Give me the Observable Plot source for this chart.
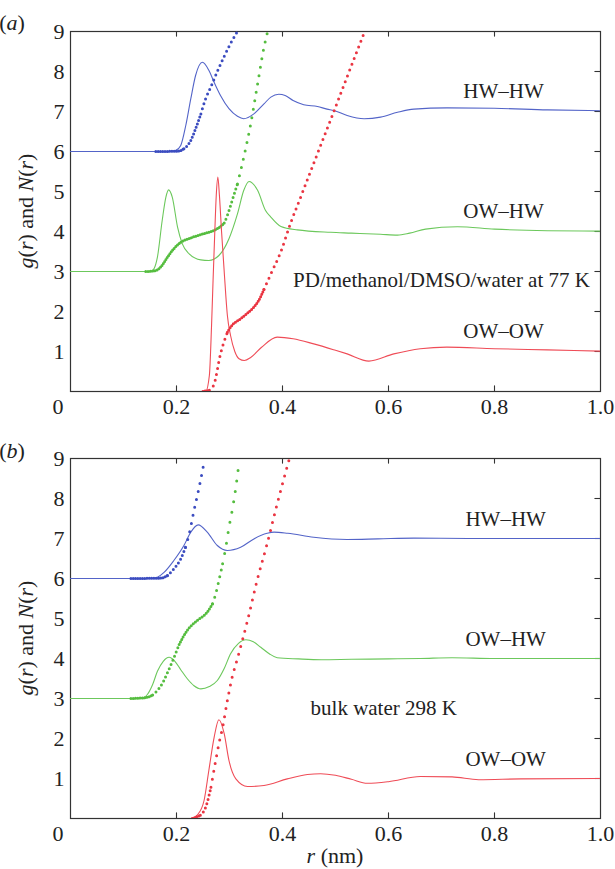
<!DOCTYPE html>
<html><head><meta charset="utf-8">
<script src="https://cdn.jsdelivr.net/npm/d3@7"></script>
<script src="https://cdn.jsdelivr.net/npm/@observablehq/plot@0.6"></script>
<style>
body{margin:0;background:#fff;width:615px;height:869px;overflow:hidden;position:relative;}
.panel{position:absolute;left:0;}
#pa{top:0px} #pb{top:420px}
</style></head><body><div id="pa" class="panel"></div><div id="pb" class="panel"></div>
<script>
// ---- tick values ----
const xTicks = [0.2, 0.4, 0.6, 0.8, 1.0];
const yTicks = [1, 2, 3, 4, 5, 6, 7, 8, 9];
const pairNames = ["HW–HW", "OW–HW", "OW–OW"];
const panelLetters = ["a", "b"];
const panelNotes = ["PD/methanol/DMSO/water at 77 K", "bulk water 298 K"];

// ---- panel (a): g(r) (solid) and N(r) (dotted), offsets included: HW–HW +6, OW–HW +3 ----
const a_HWHW_g = [[0,6],[0.19,6],[0.199,6.03],[0.208,6.15],[0.2175,6.65],[0.227,7.32],[0.236,7.9],[0.249,8.23],[0.261,8.03],[0.271,7.73],[0.283,7.4],[0.299,7.07],[0.315,6.88],[0.327,6.82],[0.346,6.94],[0.365,7.19],[0.378,7.36],[0.393,7.43],[0.405,7.4],[0.42,7.275],[0.44,7.17],[0.466,7.125],[0.484,7.06],[0.497,7.025],[0.522,6.9],[0.554,6.82],[0.585,6.86],[0.617,6.98],[0.648,7.06],[0.71,7.09],[0.8,7.08],[0.9,7.04],[1.0,7.02]];
const a_HWHW_N = [[0.161,6],[0.205,6.01],[0.214,6.07],[0.227,6.275],[0.236,6.57],[0.246,6.94],[0.255,7.32],[0.265,7.62],[0.277,8.0],[0.29,8.38],[0.302,8.7],[0.315,9.0]];
const a_OWHW_g = [[0,3],[0.152,3],[0.158,3.08],[0.164,3.36],[0.173,4.275],[0.18,4.86],[0.185,5.04],[0.192,4.86],[0.202,4.11],[0.211,3.69],[0.224,3.44],[0.246,3.29],[0.261,3.275],[0.28,3.4],[0.299,3.82],[0.315,4.44],[0.327,5.03],[0.337,5.25],[0.353,5.03],[0.368,4.525],[0.378,4.36],[0.397,4.125],[0.428,4.04],[0.491,3.98],[0.53,3.96],[0.585,3.93],[0.617,3.91],[0.64,3.96],[0.67,4.06],[0.73,4.12],[0.8,4.06],[0.9,4.02],[1.0,4.01]];
const a_OWHW_N = [[0.142,3],[0.16,3.02],[0.17,3.11],[0.183,3.36],[0.195,3.57],[0.208,3.73],[0.227,3.84],[0.246,3.925],[0.265,4.0],[0.277,4.07],[0.29,4.21],[0.297,4.44],[0.305,4.775],[0.315,5.19],[0.324,5.69],[0.34,6.69],[0.353,7.69],[0.365,8.6],[0.372,9.0]];
const a_OWOW_g = [[0,0],[0.255,0],[0.262,0.4],[0.266,1.6],[0.269,2.78],[0.272,3.9],[0.275,4.9],[0.278,5.36],[0.281,4.9],[0.285,4.0],[0.29,3.0],[0.296,1.9],[0.302,1.4],[0.31,1.0],[0.318,0.82],[0.328,0.775],[0.34,0.85],[0.36,1.1],[0.39,1.36],[0.42,1.32],[0.459,1.19],[0.5,1.03],[0.522,0.94],[0.563,0.76],[0.61,0.94],[0.66,1.07],[0.71,1.11],[0.8,1.07],[0.9,1.04],[1.0,1.01]];
const a_OWOW_N = [[0.25,0],[0.262,0.03],[0.271,0.19],[0.283,0.94],[0.296,1.48],[0.302,1.61],[0.321,1.82],[0.334,1.96],[0.346,2.11],[0.353,2.23],[0.365,2.55],[0.378,2.94],[0.397,3.5],[0.415,4.2],[0.434,4.85],[0.459,5.71],[0.491,6.8],[0.522,7.87],[0.555,9.0]];

// ---- panel (b) ----
const b_HWHW_g = [[0,6],[0.155,6],[0.165,6.04],[0.177,6.16],[0.195,6.45],[0.214,6.825],[0.227,7.16],[0.241,7.34],[0.258,7.16],[0.277,6.825],[0.296,6.7],[0.321,6.78],[0.346,6.99],[0.371,7.13],[0.384,7.16],[0.41,7.13],[0.459,7.03],[0.522,6.975],[0.58,6.99],[0.648,7.01],[0.75,7.0],[0.85,7.0],[1.0,7.0]];
const b_HWHW_N = [[0.114,6],[0.17,6.01],[0.183,6.075],[0.195,6.24],[0.208,6.49],[0.217,6.78],[0.224,7.12],[0.233,7.7],[0.243,8.3],[0.252,8.9]];
const b_OWHW_g = [[0,3],[0.133,3],[0.145,3.1],[0.155,3.35],[0.164,3.68],[0.175,3.93],[0.186,4.03],[0.197,3.93],[0.208,3.72],[0.22,3.5],[0.233,3.32],[0.246,3.24],[0.262,3.3],[0.277,3.45],[0.29,3.75],[0.302,4.12],[0.317,4.38],[0.331,4.47],[0.345,4.42],[0.359,4.28],[0.375,4.12],[0.39,4.02],[0.43,3.99],[0.473,3.97],[0.53,3.98],[0.6,3.99],[0.66,4.0],[0.72,4.02],[0.8,4.0],[0.9,4.0],[1.0,4.0]];
const b_OWHW_N = [[0.114,3],[0.145,3.03],[0.155,3.09],[0.164,3.2],[0.175,3.42],[0.183,3.65],[0.193,3.95],[0.205,4.35],[0.22,4.7],[0.239,4.95],[0.258,5.16],[0.268,5.37],[0.274,5.62],[0.28,5.95],[0.287,6.37],[0.293,6.78],[0.299,7.28],[0.305,7.7],[0.312,8.28],[0.318,8.9]];
const b_OWOW_g = [[0,0],[0.227,0],[0.24,0.1],[0.252,0.45],[0.261,1.2],[0.271,2.03],[0.28,2.47],[0.29,2.12],[0.299,1.45],[0.312,0.99],[0.334,0.8],[0.365,0.825],[0.409,0.99],[0.447,1.1],[0.472,1.12],[0.5,1.08],[0.53,0.98],[0.56,0.88],[0.6,0.92],[0.66,1.05],[0.72,1.04],[0.77,0.97],[0.85,0.99],[1.0,1.0]];
const b_OWOW_N = [[0.23,0],[0.245,0.08],[0.255,0.28],[0.265,0.78],[0.274,1.45],[0.28,1.87],[0.287,2.28],[0.296,2.95],[0.305,3.53],[0.315,4.0],[0.334,4.95],[0.352,5.95],[0.371,6.87],[0.39,7.87],[0.412,8.95]];

// label positions (data coords) for each panel
const a_labelPos = [[0.817,7.5],[0.817,4.505],[0.817,1.5]];
const a_notePos = [0.70, 2.775];
const b_labelPos = [[0.821,7.47],[0.821,4.49],[0.821,1.47]];
const b_notePos = [0.591, 2.76];

// styling: dot spacing (px along the curve) for r-ranges of each N(r) curve
const a_dotSegs = [
  [[0.161, 0.214, 2.3], [0.214, 0.246, 3.6], [0.246, 0.315, 5.2]],
  [[0.142, 0.29, 2.3], [0.29, 0.315, 4.5], [0.315, 0.372, 8.5]],
  [[0.25, 0.262, 2.3], [0.262, 0.296, 6], [0.296, 0.365, 2.6], [0.365, 0.555, 6.2]]
];
const b_dotSegs = [
  [[0.114, 0.183, 2.3], [0.183, 0.217, 4.2], [0.217, 0.252, 8.2]],
  [[0.114, 0.155, 2.3], [0.155, 0.205, 4.5], [0.205, 0.268, 2.8], [0.268, 0.287, 7], [0.287, 0.318, 10.5]],
  [[0.23, 0.245, 2.3], [0.245, 0.265, 4.5], [0.265, 0.412, 8.0]]
];

const lineColors = ["#5364c8", "#6cc85c", "#ef4c57"];
const dotColors  = ["#3b4cc0", "#55bd3f", "#ea3542"];
const FONT = "'Liberation Serif', 'Times New Roman', serif";

function panel(cfg) {
  const {g, N, labelPos, notePos, note, height, mTop, mBottom, segs} = cfg;
  const marks = [
    Plot.frame({stroke: "#333", strokeWidth: 1.2}),
    Plot.ruleX(xTicks.slice(0, 4), {x: d => d, y1: 0, y2: 0.14, stroke: "#333", strokeWidth: 1.1}),
    Plot.ruleX(xTicks.slice(0, 4), {x: d => d, y1: 9, y2: 8.86, stroke: "#333", strokeWidth: 1.1}),
    Plot.ruleY(yTicks.slice(0, 8), {y: d => d, x1: 1.0, x2: 0.9895, stroke: "#333", strokeWidth: 1.1}),
    Plot.axisX(xTicks, {tickSize: 0, tickPadding: 7, tickFormat: d3.format(".1f"), label: null, fill: "#222", fontSize: 22}),
    Plot.axisY(yTicks, {tickSize: 0, tickPadding: 6, label: null, fill: "#222", fontSize: 22}),
    Plot.text([0], {x: 0, y: 0, text: d => String(d), dx: -12.5, dy: 7, lineAnchor: "top", fill: "#222", fontSize: 22})
  ];
  for (let i = 0; i < 3; i++) {
    marks.push(Plot.line(g[i], {x: d => d[0], y: d => d[1], stroke: lineColors[i], strokeWidth: 1.1, curve: "monotone-x", clip: true}));
    for (const [lo, hi, gap] of segs[i]) {
      marks.push(Plot.line(N[i].filter(d => d[0] >= lo && d[0] <= hi), {
        x: d => d[0], y: d => d[1], stroke: dotColors[i], strokeWidth: 3,
        strokeDasharray: `0 ${gap}`, strokeLinecap: "round", curve: "monotone-x", clip: true
      }));
    }
  }
  marks.push(Plot.text(pairNames, {x: (d, i) => labelPos[i][0], y: (d, i) => labelPos[i][1], text: d => d, textAnchor: "middle", lineAnchor: "middle", fill: "#222", fontSize: 21}));
  marks.push(Plot.text([note], {x: notePos[0], y: notePos[1], text: d => d, textAnchor: "middle", lineAnchor: "middle", fill: "#222", fontSize: 21}));
  return Plot.plot({
    width: 615, height,
    marginLeft: 70, marginRight: 15, marginTop: mTop, marginBottom: mBottom,
    x: {domain: [0, 1], axis: null},
    y: {domain: [0, 9], axis: null},
    style: {fontFamily: FONT, fontSize: "22px", background: "transparent", color: "#222", overflow: "visible"},
    marks
  });
}

function addItalicText(svg, x, y, parts, rotate) {
  const t = d3.select(svg).append("text")
    .attr("font-family", FONT).attr("font-size", 22).attr("fill", "#222");
  if (rotate) t.attr("transform", `translate(${x},${y}) rotate(-90)`).attr("text-anchor", "middle");
  else t.attr("x", x).attr("y", y);
  for (const [s, it] of parts) t.append("tspan").attr("font-style", it ? "italic" : "normal").text(s);
  return t;
}

const svgA = panel({g: [a_HWHW_g, a_OWHW_g, a_OWOW_g], N: [a_HWHW_N, a_OWHW_N, a_OWOW_N], labelPos: a_labelPos, notePos: a_notePos, note: panelNotes[0], height: 420, mTop: 31, mBottom: 29, segs: a_dotSegs});
const svgB = panel({g: [b_HWHW_g, b_OWHW_g, b_OWOW_g], N: [b_HWHW_N, b_OWHW_N, b_OWOW_N], labelPos: b_labelPos, notePos: b_notePos, note: panelNotes[1], height: 449, mTop: 38, mBottom: 51, segs: b_dotSegs});
document.getElementById("pa").appendChild(svgA);
document.getElementById("pb").appendChild(svgB);

const yTitle = [["g", true], ["(", false], ["r", true], [") and ", false], ["N", true], ["(", false], ["r", true], [")", false]];
addItalicText(svgA, 12, 29.5, [["(", false], [panelLetters[0], true], [")", false]]);
addItalicText(svgA, 33, 211, yTitle, true);
addItalicText(svgB, 12, 38, [["(", false], [panelLetters[1], true], [")", false]]);
addItalicText(svgB, 33, 218, yTitle, true);
addItalicText(svgB, 335, 443, [["r", true], [" (nm)", false]]).attr("text-anchor", "middle");
</script></body></html>
